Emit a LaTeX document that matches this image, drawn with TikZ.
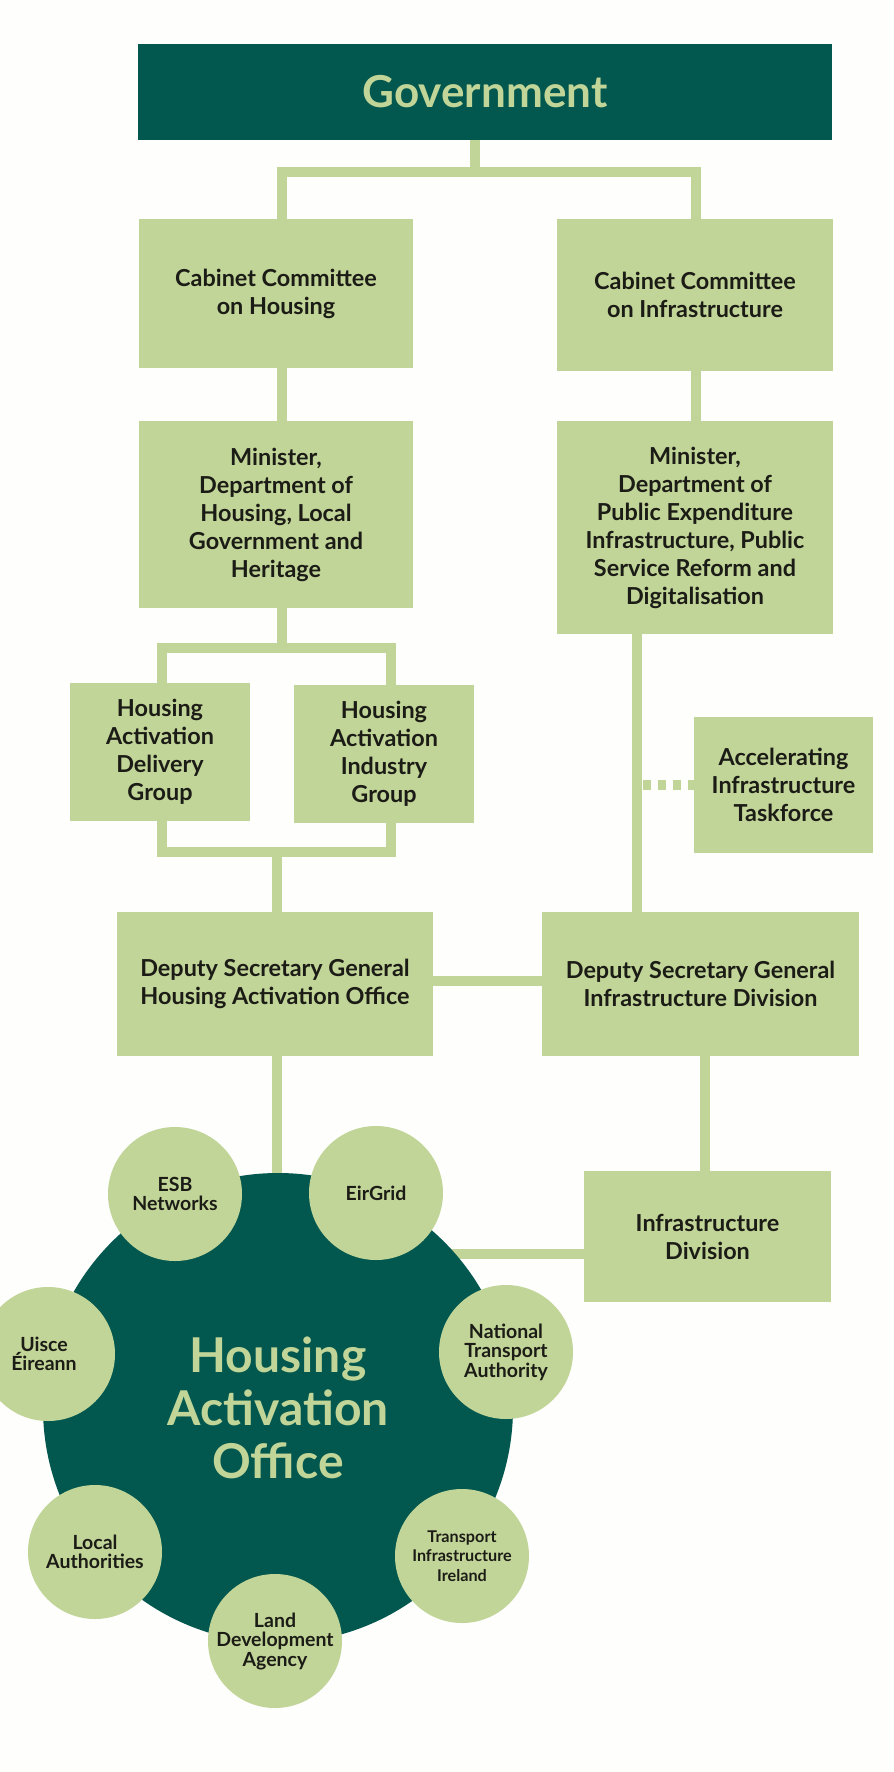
\documentclass[tikz,border=0pt]{standalone}
\usepackage{fontspec}
\setmainfont{Lato}
\usetikzlibrary{positioning}
\definecolor{hdark}{RGB}{2,88,78}
\definecolor{hlight}{RGB}{194,213,152}
\definecolor{htext}{RGB}{28,28,22}
\definecolor{paper}{RGB}{254,254,252}
\pgfdeclarelayer{back}
\pgfsetlayers{back,main}

\begin{document}
\begin{tikzpicture}[x=1pt,y=-1pt,
      govbox/.style={rectangle,fill=hdark,text=hlight,inner sep=0pt,minimum width=694pt,minimum height=96pt,font=\bfseries\fontsize{44}{50}\selectfont},
      box/.style={rectangle,fill=hlight,text=htext,inner sep=0pt,align=center,font=\bfseries\fontsize{23.4}{28}\selectfont},
      hub/.style={circle,fill=hdark,text=hlight,minimum size=470pt,inner sep=0pt,align=center,font=\bfseries\fontsize{48}{53}\selectfont},
      agency/.style={circle,fill=hlight,text=htext,minimum size=134pt,inner sep=0pt,align=center,font=\bfseries\fontsize{19.5}{19.5}\selectfont},
      conn/.style={draw=hlight,line width=10pt},
      dotconn/.style={conn,dash pattern=on 8pt off 7pt}]
    \useasboundingbox (0,0) rectangle (894,1772);
    % TOP: government and committees
    \node[govbox] (gov) at (485,92) {Government};
    \node[box,minimum width=274pt,minimum height=149pt] (cch) at (276,293.5) {Cabinet Committee\\on Housing};
    \node[box,minimum width=276pt,minimum height=152pt] (cci) at (695,295) {Cabinet Committee\\on Infrastructure};
    \node[box,minimum width=274pt,minimum height=187pt] (minh) at (276,514.5) {Minister,\\Department of\\Housing, Local\\Government and\\Heritage};
    \node[box,minimum width=276pt,minimum height=213pt] (minp) at (695,527.5) {Minister,\\Department of\\Public Expenditure\\Infrastructure, Public\\Service Reform and\\Digitalisation};
    % MIDDLE: groups, taskforce and deputies
    \node[box,minimum width=180pt,minimum height=138pt] (hadg) at (160,752) {Housing\\Activation\\Delivery\\Group};
    \node[box,minimum width=180pt,minimum height=138pt] (haig) at (384,754) {Housing\\Activation\\Industry\\Group};
    \node[box,minimum width=179pt,minimum height=136pt] (ait) at (783.5,785) {Accelerating\\Infrastructure\\Taskforce};
    \node[box,minimum width=316pt,minimum height=144pt] (dsgh) at (275,984) {Deputy Secretary General\\Housing Activation Office};
    \node[box,minimum width=317pt,minimum height=144pt] (dsgi) at (700.5,984) {Deputy Secretary General\\Infrastructure Division};
    \node[box,minimum width=247pt,minimum height=131pt] (infd) at (707.5,1236.5) {Infrastructure\\Division};
    % BOTTOM: office and its agencies
    \node[hub] (hao) at (278,1408) {Housing\\Activation\\Office};
    \foreach \n/\x/\y/\txt in {esb/175/1194/{ESB\\Networks}, eir/376/1193/{EirGrid},
        uis/48/1354/{\hspace*{-8pt}Uisce\\\hspace*{-8pt}Éireann}, nta/506/1352/{National\\Transport\\Authority},
        loc/95/1552/{Local\\Authorities}, lda/275/1641/{Land\\Development\\Agency}}
      \node[agency] (\n) at (\x,\y) {\txt};
    \node[agency,font=\bfseries\fontsize{16.2}{19.5}\selectfont] (tii) at (462,1556) {Transport\\Infrastructure\\Ireland};
    % connectors behind the boxes
    \begin{pgfonlayer}{back}
      \fill[paper] (0,0) rectangle (894,1772);
      \coordinate (gj) at (475,172);
      \draw[conn] (gj |- gov.south) -- (gj);
      \draw[conn] ([xshift=6pt]cch.north) |- (gj) -| ([xshift=1pt]cci.north);
      \draw[conn] ([xshift=6pt]cch.south) -- ([xshift=6pt]minh.north);
      \draw[conn] ([xshift=1pt]cci.south) -- ([xshift=1pt]minp.north);
      \coordinate (mj) at (282,648);
      \draw[conn] (mj |- minh.south) -- (mj);
      \draw[conn] ([xshift=2pt]hadg.north) |- (mj) -| ([xshift=7pt]haig.north);
      \coordinate (dj) at (277,852);
      \draw[conn] ([xshift=2pt]hadg.south) |- (dj) -| ([xshift=7pt]haig.south);
      \draw[conn] (dj) -- (dj |- dsgh.north);
      \draw[conn] ([xshift=-58pt]minp.south) -- ([xshift=-63.5pt]dsgi.north);
      \coordinate (aj) at (642,785);
      \draw[dotconn] ([xshift=2pt]ait.west) -- (aj);
      \draw[conn] ([yshift=3pt]dsgh.east) -- ([yshift=3pt]dsgi.west);
      \draw[conn] ([xshift=2pt]dsgh.south) -- ([xshift=2pt]dsgh.south |- hao.north);
      \draw[conn] ([xshift=-2.5pt]infd.north |- dsgi.south) -- ([xshift=-2.5pt]infd.north);
      \draw[conn] ([yshift=-17pt]infd.west) -- ([yshift=-17pt]infd.west -| hao);
    \end{pgfonlayer}
  \end{tikzpicture}
\end{document}
